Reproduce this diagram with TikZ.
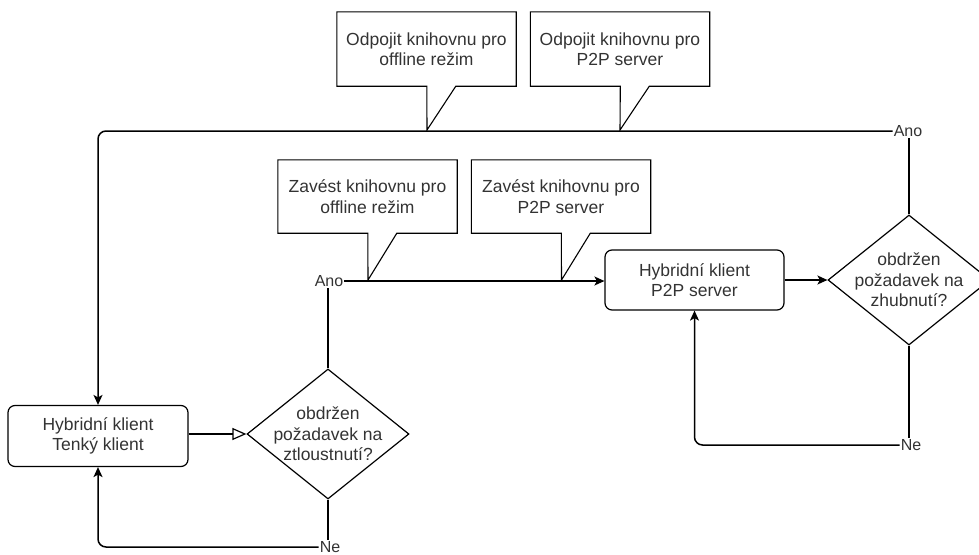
\documentclass[tikz,border=0pt]{standalone}
\usepackage{fontspec}
\setmainfont{Liberation Sans}
\usetikzlibrary{arrows.meta,shapes.geometric}

\begin{document}
\begin{tikzpicture}[x=1pt,y=-1pt,
  every node/.style={font=\fontsize{17.5}{20.5}\selectfont, text=black!80},
  proc/.style={draw=black, rounded corners=7pt, minimum width=180pt, minimum height=61pt,
    align=center, inner sep=0pt, line width=1.2pt},
  decision/.style={draw=black, diamond, minimum width=162pt, minimum height=130pt,
    inner sep=0pt, line width=1.2pt},
  notebox/.style={minimum width=179pt, minimum height=74pt, inner sep=0pt, align=center},
  noteline/.style={draw=black, line width=1.1pt, line join=miter},
  lbl/.style={fill=white, inner sep=1pt, font=\fontsize{16}{17}\selectfont},
  conn/.style={draw=black, line width=1.5pt},
  flow/.style={conn, -{Stealth[length=10pt,width=9pt,inset=2.5pt]}},
  openflow/.style={conn, -{Triangle[open,length=14pt,width=12pt,line width=1.2pt]}},
]
\useasboundingbox (0,0) rectangle (979,554);
\clip (0,0) rectangle (979,554);

% process boxes
\node[proc] (thin) at (98,436) {Hybridní klient\\Tenký klient};
\node[proc, minimum width=179pt, minimum height=60pt] (p2p) at (694.5,280) {Hybridní klient\\P2P server};

% decisions
\node[decision, label={[align=center]center:obdržen\\požadavek na\\ztloustnutí?}] (d1) at (328,434) {};
\node[decision, label={[align=center]center:obdržen\\požadavek na\\zhubnutí?}] (d2) at (909,280) {};

% branch labels
\node[lbl] (ano1) at (329,281) {Ano};
\node[lbl] (ne1) at (330,547) {Ne};
\node[lbl] (ano2) at (908,131) {Ano};
\node[lbl] (ne2) at (911,445) {Ne};

% connectors
\draw[openflow] (thin.east |- d1.west) -- (d1.west);
\draw[conn] (d1.north) -- (d1.north |- ano1.south);
\draw[flow] (ano1.east) -- (ano1.east -| p2p.west);
\draw[flow] (p2p) -- (d2);
\draw[conn] (d2.north) -- (d2.north |- ano2.south);
\draw[flow, rounded corners=8pt] (ano2.west) -| (thin);
\draw[conn] (d1.south) -- (d1.south |- ne1.north);
\draw[flow, rounded corners=8pt] (ne1.west) -| (thin);
\draw[conn] (d2.south) -- (d2.south |- ne2.north);
\draw[flow, rounded corners=8pt] (ne2.west) -| (p2p);

% attachment points of the callouts
\coordinate (t1) at (427,130);
\coordinate (t2) at (620,130);
\coordinate (t3) at (368,280);
\coordinate (t4) at (561.5,280);

% callouts
\node[notebox] (c1) at (426.5,49) {Odpojit knihovnu pro\\offline režim};
\node[notebox] (c2) at (620,49) {Odpojit knihovnu pro\\P2P server};
\node[notebox, minimum height=73pt] (c3) at (367.5,196.5) {Zavést knihovnu pro\\offline režim};
\node[notebox, minimum height=73pt] (c4) at (561,196.5) {Zavést knihovnu pro\\P2P server};

\foreach \c/\t in {c1/t1,c2/t2,c3/t3,c4/t4}{
  \draw[noteline] (\c.north west) -- (\c.north east) -- (\c.south east)
    -- ([xshift=119pt]\c.south west) -- (\t) -- ([xshift=90pt]\c.south west)
    -- (\c.south west) -- cycle;
}
\end{tikzpicture}
\end{document}
